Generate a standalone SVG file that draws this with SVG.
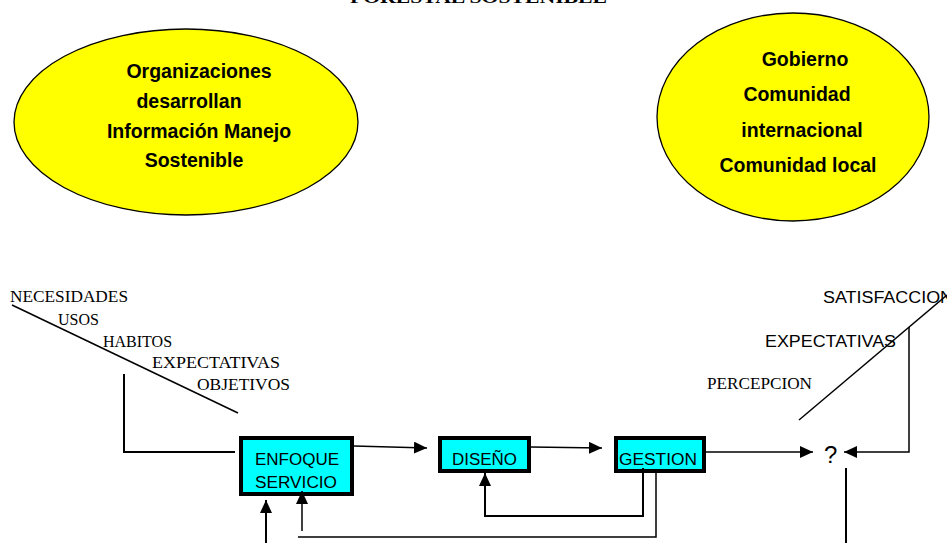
<svg xmlns="http://www.w3.org/2000/svg" width="947" height="543" viewBox="0 0 947 543">
<defs>
<style>
.ell{fill:#ffff00;stroke:#000;stroke-width:1.3}
.et{font-family:"Liberation Sans",Arial,sans-serif;font-weight:bold;font-size:19.5px;fill:#000;text-anchor:middle}
.box{fill:#00ffff;stroke:#000;stroke-width:4}
.bt{font-family:"Liberation Sans",Arial,sans-serif;font-size:16px;fill:#000}
.tm{font-family:"Liberation Serif","Times New Roman",serif;font-size:16px;fill:#000}
.ln{fill:none;stroke:#000;stroke-width:1.5}
.ln2{fill:none;stroke:#000;stroke-width:2}
</style>
<marker id="ah" markerWidth="14" markerHeight="12" refX="13" refY="6" orient="auto" markerUnits="userSpaceOnUse">
<path d="M0,0 L13,6 L0,12 Z" fill="#000"/>
</marker>
</defs>
<rect width="947" height="543" fill="#fff"/>
<text x="350" y="3" class="tm" style="font-weight:bold;font-size:17px" textLength="257" lengthAdjust="spacingAndGlyphs">FORESTAL SOSTENIBLE</text>

<g id="org">
<ellipse class="ell" cx="186" cy="122" rx="172" ry="93"/>
<text class="et" x="199" y="78">Organizaciones</text>
<text class="et" x="189" y="108">desarrollan</text>
<text class="et" x="199" y="138">Información Manejo</text>
<text class="et" x="194" y="167">Sostenible</text>
</g>

<g id="gob">
<ellipse class="ell" cx="793" cy="117" rx="136" ry="104"/>
<text class="et" x="805" y="66">Gobierno</text>
<text class="et" x="797" y="101">Comunidad</text>
<text class="et" x="802" y="137">internacional</text>
<text class="et" x="798" y="172">Comunidad local</text>
</g>

<g id="needs">
<text class="tm" x="10" y="302" textLength="118" lengthAdjust="spacingAndGlyphs">NECESIDADES</text>
<text class="tm" x="58" y="325">USOS</text>
<text class="tm" x="103" y="347">HABITOS</text>
<text class="tm" x="152" y="368" textLength="128" lengthAdjust="spacingAndGlyphs">EXPECTATIVAS</text>
<text class="tm" x="197" y="390" textLength="93" lengthAdjust="spacingAndGlyphs">OBJETIVOS</text>
<line class="ln" x1="12" y1="305" x2="238" y2="413"/>
</g>

<g id="outcomes">
<text class="bt" x="823" y="303" textLength="130" lengthAdjust="spacingAndGlyphs">SATISFACCION</text>
<text class="bt" x="765" y="347" textLength="131" lengthAdjust="spacingAndGlyphs">EXPECTATIVAS</text>
<text class="tm" x="707" y="389" textLength="105" lengthAdjust="spacingAndGlyphs">PERCEPCION</text>
<line class="ln" x1="799" y1="420" x2="947" y2="295"/>
</g>

<g id="enfoque">
<rect class="box" x="241" y="438" width="111" height="56"/>
<text class="bt" x="255" y="465" textLength="84" lengthAdjust="spacingAndGlyphs">ENFOQUE</text>
<text class="bt" x="255" y="488" textLength="82" lengthAdjust="spacingAndGlyphs">SERVICIO</text>
</g>

<g id="diseno">
<rect class="box" x="440" y="438" width="89" height="33"/>
<text class="bt" x="452" y="465" textLength="65" lengthAdjust="spacingAndGlyphs">DISEÑO</text>
</g>

<g id="gestion">
<rect class="box" x="616" y="438" width="88" height="33"/>
<text class="bt" x="619" y="465" textLength="78" lengthAdjust="spacingAndGlyphs">GESTION</text>
</g>

<g id="q">
<text class="bt" x="824" y="463" style="font-size:24px">?</text>
</g>

<g id="connectors">
<polyline class="ln2" points="124,374 124,452 235,452"/>
<line class="ln" x1="354" y1="446" x2="427" y2="448" marker-end="url(#ah)"/>
<line class="ln" x1="531" y1="447" x2="602" y2="448" marker-end="url(#ah)"/>
<line class="ln" x1="706" y1="452" x2="813" y2="452" marker-end="url(#ah)"/>
<polyline class="ln" points="909,327 909,452 844,452" marker-end="url(#ah)"/>
<line class="ln2" x1="846" y1="468" x2="846" y2="543"/>
<polyline class="ln2" points="643,468 643,516 485,516 485,473" marker-end="url(#ah)"/>
<polyline class="ln" points="656,473 656,537 298,537"/>
<line class="ln" x1="302" y1="531" x2="302" y2="491" marker-end="url(#ah)"/>
<line class="ln2" x1="266" y1="543" x2="266" y2="500" marker-end="url(#ah)"/>
</g>
</svg>
